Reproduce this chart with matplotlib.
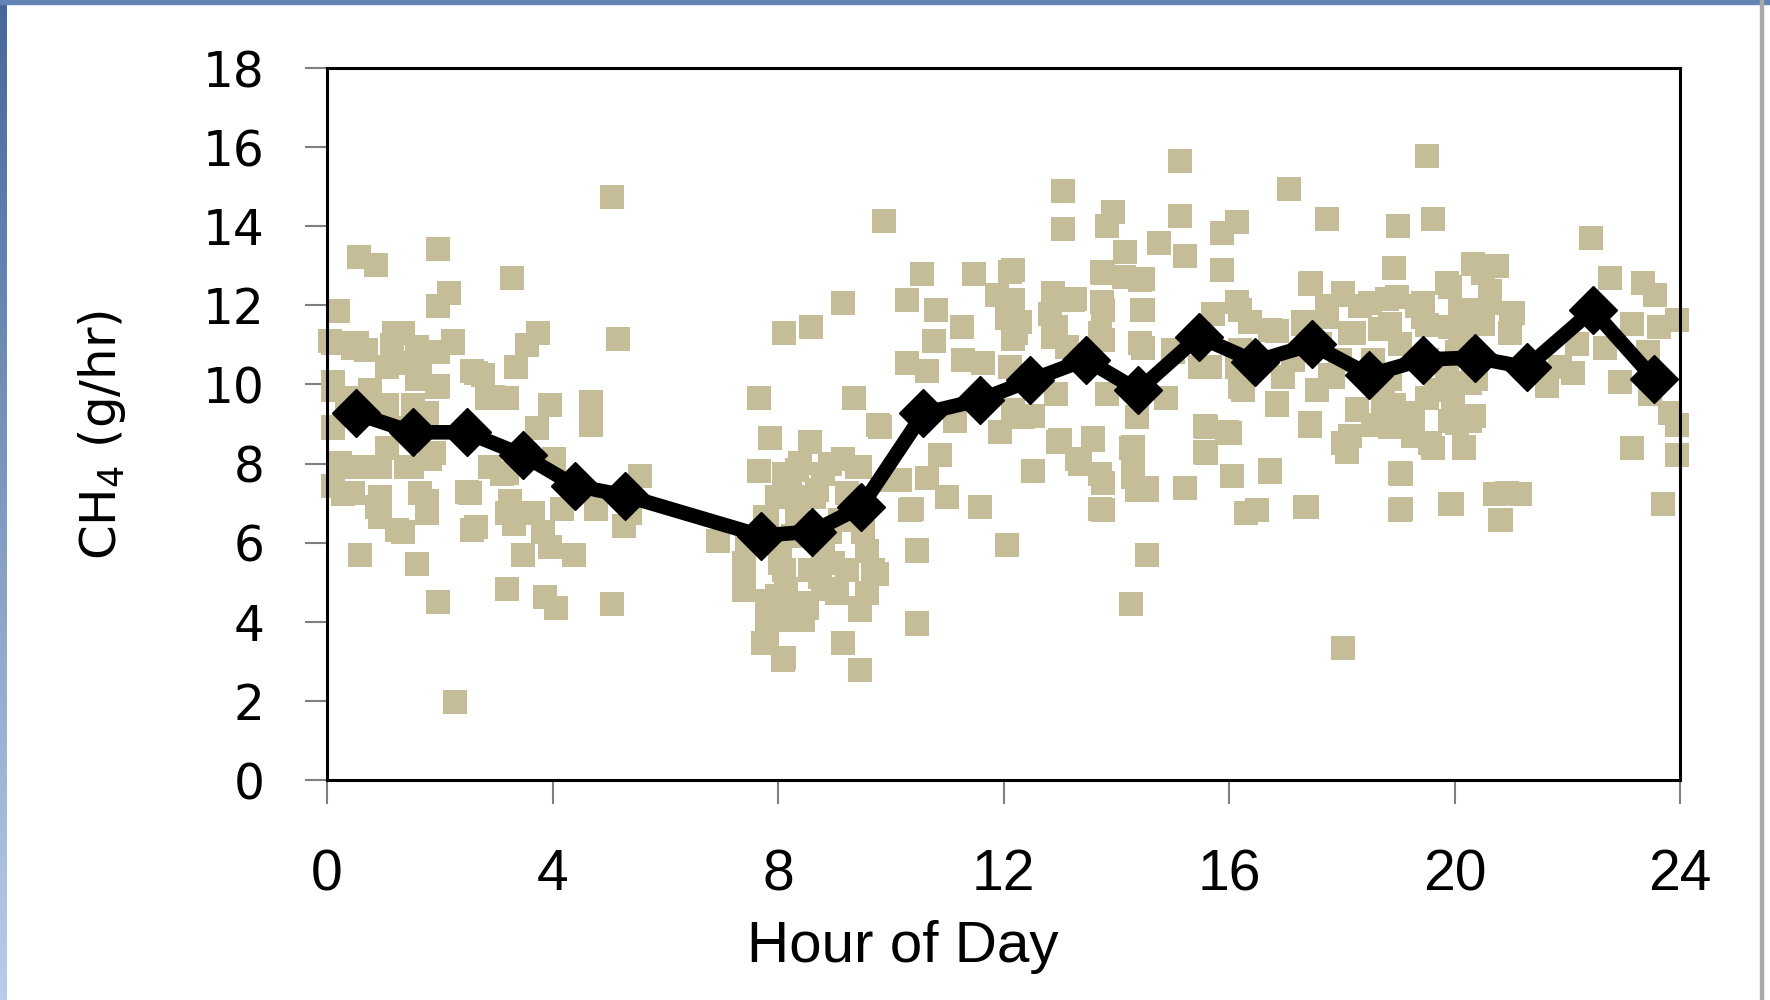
#!/usr/bin/env python3
"""
CH4 emission rate by hour of day: individual samples plus hourly means.
"""

import matplotlib
matplotlib.use('Agg')  # no display
import matplotlib.pyplot as plt
from matplotlib import font_manager
from matplotlib.colors import LinearSegmentedColormap
from matplotlib.patches import Rectangle
import numpy as np

# Hourly means (black diamonds + line)
mean_hour = [0.51, 1.52, 2.48, 3.48, 4.40, 5.29, 7.69, 8.61, 9.47, 10.58, 11.58,
             12.47, 13.46, 14.39, 15.46, 16.46, 17.47, 18.49, 19.44, 20.37, 21.28,
             22.45, 23.54]
mean_ch4 = [9.27, 8.79, 8.79, 8.21, 7.44, 7.19, 6.18, 6.28, 6.90, 9.27, 9.61,
            10.10, 10.63, 9.85, 11.21, 10.58, 11.01, 10.24, 10.63, 10.68, 10.43,
            11.88, 10.14]

# Individual samples (tan squares)
sample_hour = [
    # 0 - 4 h
    0.57, 0.87, 1.97, 3.28, 2.17, 1.97, 0.20, 3.75, 3.54, 3.36, 2.24, 1.35, 1.15,
    0.05, 0.47, 0.70, 1.65, 1.97, 2.57, 2.77, 1.97, 1.24, 1.59, 0.11, 0.35, 0.11,
    0.76, 2.83, 3.19, 3.96, 3.72, 4.02, 1.77, 1.35, 0.47, 0.23, 0.11, 0.29, 0.94,
    1.06, 1.83, 1.50, 0.94, 0.94, 1.35, 1.77, 1.77, 2.48, 2.57, 2.89, 3.10, 3.25,
    3.31, 3.66, 3.84, 3.48, 0.59, 1.59, 1.97, 3.19, 3.87, 4.07, 2.27, 1.06, 1.06,
    1.53,
    # 4 - 8 h
    5.06, 5.16, 8.10, 4.68, 4.68, 5.55, 4.16, 4.78, 5.26, 5.38, 3.96, 4.38, 5.06,
    6.94, 7.45, 7.66, 7.86, 7.66, 8.10, 7.98, 7.77, 7.39, 7.80, 8.10, 7.80, 7.74,
    8.10, 8.10, 8.04,
    # 8 - 12 h
    9.88, 9.16, 8.58, 10.56, 10.28, 10.81, 11.26, 10.76, 11.47, 12.12, 11.88,
    12.06, 12.17, 10.28, 10.64, 11.29, 11.64, 12.12, 9.35, 9.78, 11.14, 11.94,
    8.57, 10.87, 8.39, 9.16, 8.21, 8.80, 9.40, 10.16, 10.64, 10.99, 11.58, 10.37,
    12.06, 10.46, 8.27, 8.80, 9.57, 9.75, 9.45, 8.51, 8.80, 8.21, 9.16, 9.45,
    10.46, 8.74, 8.33, 9.10, 8.92, 9.51, 8.63, 8.15, 9.22,
    # 12 - 16 h
    15.13, 13.06, 13.06, 13.94, 13.83, 15.13, 14.75, 15.22, 16.14, 15.87, 15.87,
    14.16, 13.74, 14.48, 14.13, 12.88, 13.27, 13.74, 14.45, 12.29, 12.82, 16.14,
    15.72, 13.71, 14.48, 15.01, 12.88, 15.66, 16.14, 12.94, 13.83, 14.89, 14.36,
    12.35, 16.25, 12.97, 13.59, 14.27, 15.57, 15.96, 15.57, 13.30, 13.71, 14.30,
    14.54, 12.53, 13.71, 14.36, 15.22, 16.05, 16.31, 14.54, 14.27,
    # 16 - 20 h
    19.52, 17.07, 17.74, 19.00, 19.62, 18.92, 20.33, 17.45, 18.03, 16.37, 16.85,
    17.73, 18.32, 18.80, 19.33, 19.86, 20.10, 17.32, 18.15, 19.51, 20.10, 19.51,
    16.85, 17.56, 17.79, 18.86, 19.86, 17.44, 18.27, 18.56, 18.15, 18.09, 19.27,
    19.27, 19.62, 20.16, 20.28, 19.92, 16.73, 17.35, 19.05, 19.05, 19.96, 18.03,
    18.68, 19.03, 18.56, 17.97, 20.04, 20.33, 17.61, 17.14, 19.51, 18.92, 19.98,
    # 20 - 24 h
    22.42, 20.75, 22.76, 23.34, 23.56, 20.63, 21.01, 20.45, 23.14, 23.62, 23.94,
    20.98, 22.67, 22.17, 23.44, 20.39, 21.64, 22.11, 21.87, 22.94, 23.47, 23.82,
    23.94, 23.14, 23.94, 20.72, 21.16, 20.82, 23.70,
]
sample_ch4 = [
    # 0 - 4 h
    13.22, 13.03, 13.43, 12.68, 12.32, 11.98, 11.86, 11.30, 11.00, 10.43, 11.11,
    11.30, 11.00, 11.11, 10.92, 10.87, 10.82, 10.82, 10.34, 10.24, 9.95, 10.53,
    10.14, 10.05, 9.66, 8.89, 9.76, 9.66, 9.66, 9.47, 8.89, 8.11, 9.18, 8.89,
    7.92, 8.02, 7.44, 7.24, 7.92, 8.40, 8.11, 7.92, 7.15, 6.66, 6.28, 7.05, 6.76,
    7.29, 6.32, 7.92, 7.73, 7.05, 6.47, 6.76, 6.28, 5.69, 5.69, 5.45, 4.49, 4.82,
    4.63, 4.34, 1.97, 10.43, 9.47, 9.47,
    # 4 - 8 h
    14.74, 11.16, 11.30, 9.56, 8.98, 7.68, 6.86, 6.86, 6.42, 6.76, 5.89, 5.70,
    4.44, 6.03, 6.03, 9.66, 8.64, 7.82, 7.73, 7.15, 6.66, 4.92, 4.53, 5.31, 4.05,
    3.47, 3.08, 4.34, 5.79,
    # 8 - 12 h
    14.13, 12.06, 11.45, 12.80, 12.13, 11.88, 11.45, 11.11, 12.80, 12.85, 12.27,
    11.69, 11.16, 10.53, 10.34, 10.63, 10.53, 10.43, 9.66, 8.98, 9.08, 8.79, 8.55,
    8.21, 8.02, 8.11, 7.34, 7.73, 7.92, 7.58, 7.63, 7.15, 6.90, 6.86, 5.94, 5.79,
    6.18, 5.70, 5.79, 5.21, 4.34, 4.34, 4.82, 4.05, 3.47, 2.79, 3.95, 5.12, 6.76,
    6.57, 6.28, 6.28, 7.15, 4.82, 5.31,
    # 12 - 16 h
    15.64, 14.88, 13.92, 14.35, 14.01, 14.25, 13.58, 13.24, 14.11, 13.82, 12.90,
    13.36, 12.85, 12.66, 12.71, 12.32, 12.17, 12.08, 11.88, 11.59, 11.79, 12.08,
    11.79, 11.30, 10.92, 10.82, 11.21, 10.43, 10.43, 9.76, 9.76, 9.66, 9.18, 9.18,
    9.85, 8.55, 8.65, 8.40, 8.94, 8.79, 8.30, 8.11, 7.73, 7.92, 7.39, 7.82, 6.86,
    7.34, 7.39, 7.68, 6.76, 5.70, 4.44,
    # 16 - 20 h
    15.77, 14.93, 14.19, 14.01, 14.19, 12.95, 13.05, 12.56, 12.27, 11.59, 11.35,
    11.98, 11.98, 12.17, 11.98, 12.56, 11.88, 11.59, 11.30, 11.50, 11.30, 10.63,
    9.47, 9.85, 10.24, 10.14, 10.24, 8.94, 9.37, 8.98, 8.69, 8.30, 9.28, 8.69,
    8.40, 8.40, 9.08, 9.08, 7.79, 6.90, 7.73, 6.84, 6.97, 3.33, 11.40, 11.01,
    10.63, 10.63, 10.82, 10.63, 11.01, 10.63, 9.66, 9.47, 9.66,
    # 20 - 24 h
    13.70, 12.99, 12.68, 12.56, 12.27, 12.37, 11.79, 11.88, 11.52, 11.45, 11.64,
    11.30, 10.92, 11.01, 10.82, 10.14, 9.95, 10.29, 10.43, 10.05, 9.76, 9.28,
    8.98, 8.40, 8.21, 7.24, 7.24, 6.57, 6.97,
]

# More samples inside the dense clusters (mostly hidden by neighbours)
dense_hour = [
    0.11, 0.53, 1.18, 1.59, 2.24, 0.11, 0.76, 1.65, 1.95, 2.65, 2.95, 0.11, 1.06,
    1.77, 0.23, 0.82, 1.41, 1.89, 0.47, 0.88, 1.65, 1.24, 2.54, 2.65, 3.19, 3.19,
    8.33, 8.92, 9.45, 8.04, 8.69, 9.22, 7.80, 7.39, 8.04, 8.57, 8.98, 9.69, 7.39,
    7.98, 8.51, 9.04, 9.57, 7.80, 8.45, 9.45, 7.80, 8.09, 9.16, 9.45, 9.99, 10.34,
    10.46, 10.46, 9.81,
    12.17, 12.17, 12.23, 12.88, 13.24, 12.94, 13.12, 13.77, 13.77, 14.42, 14.48,
    13.77, 14.42, 15.01, 15.49, 12.17, 12.53, 13.00, 13.59, 13.36, 13.77, 13.77,
    14.30, 14.30, 14.54, 15.60, 15.60, 16.02, 16.20, 16.20, 16.20,
    17.44, 18.03, 18.50, 18.98, 19.45, 19.92, 20.51, 20.63, 21.04, 17.73, 18.21,
    18.86, 19.45, 19.92, 20.51, 16.73, 17.32, 16.96, 16.85, 17.56, 17.85, 17.44,
    18.03, 18.27, 18.74, 18.86, 19.27, 19.68, 19.57, 20.04, 20.16, 20.34, 20.28,
    21.64, 16.73, 19.03, 17.38, 16.49, 19.03, 19.92, 20.93, 20.81,
]
dense_ch4 = [
    11.04, 11.04, 11.29, 10.95, 11.04, 9.86, 9.86, 10.28, 9.94, 10.28, 9.69, 8.93,
    9.35, 9.27, 7.92, 7.92, 7.92, 8.26, 7.25, 6.91, 7.25, 6.32, 7.25, 6.40, 7.75,
    6.74,
    7.84, 8.00, 7.92, 7.16, 7.33, 7.25, 6.66, 5.48, 5.48, 5.31, 5.48, 5.31, 4.80,
    4.64, 4.47, 4.72, 4.72, 4.13, 4.05, 4.30, 3.54, 3.03, 3.46, 2.78, 7.58, 6.83,
    5.82, 3.96, 8.93,
    12.89, 12.13, 11.29, 12.30, 12.13, 11.46, 10.95, 12.81, 11.88, 12.64, 11.88,
    11.12, 11.04, 10.87, 10.45, 9.35, 9.19, 8.60, 8.60, 8.00, 7.50, 6.83, 8.43,
    7.67, 7.33, 8.93, 8.26, 8.76, 11.88, 10.87, 9.94,
    12.55, 12.30, 12.05, 12.22, 12.05, 12.47, 12.81, 12.05, 11.80, 11.71, 11.29,
    11.54, 11.71, 11.46, 11.54, 11.37, 11.54, 10.20, 9.52, 9.86, 10.20, 9.02,
    8.51, 9.35, 9.52, 8.93, 9.19, 9.86, 8.51, 9.02, 8.43, 9.19, 10.03, 10.11,
    7.84, 7.75, 6.91, 6.83, 6.83, 6.99, 7.25, 6.57,
]

x_ticks = [0, 4, 8, 12, 16, 20, 24]
y_ticks = [0, 2, 4, 6, 8, 10, 12, 14, 16, 18]

TAN = '#C4BD97'

installed = {f.name for f in font_manager.fontManager.ttflist}
narrow = 'Liberation Sans Narrow' if 'Liberation Sans Narrow' in installed else 'Liberation Sans'

W, H = 1770, 1000
fig = plt.figure(figsize=(W / 100, H / 100), dpi=100)
ax = fig.add_axes([327 / W, 1 - 780 / H, (1680 - 327) / W, (780 - 68) / H])

for hrs, vals in [(sample_hour, sample_ch4), (dense_hour, dense_ch4)]:
    ax.plot(hrs, vals, linestyle='none', marker='s', markersize=17,
            markerfacecolor=TAN, markeredgewidth=0, clip_on=False, zorder=2)
ax.plot(mean_hour, mean_ch4, color='black', linewidth=10.5, marker='D',
        markersize=24, markerfacecolor='black', markeredgecolor='black',
        solid_joinstyle='round', clip_on=False, zorder=3)

ax.set_xlim(0, 24)
ax.set_ylim(0, 18)
ax.set_xticks(x_ticks)
ax.set_yticks(y_ticks)

for s in ax.spines.values():
    s.set_linewidth(2.2)
    s.set_color('black')

ax.tick_params(axis='y', direction='out', length=16, width=1.5, color='#808080',
               pad=29, labelsize=35, labelcolor='black')
ax.tick_params(axis='x', direction='out', length=17, width=1.5, color='#808080',
               pad=32, labelsize=41, labelcolor='black')
for lab in ax.get_xticklabels():
    lab.set_fontfamily(narrow)
for lab in ax.get_yticklabels():
    lab.set_fontfamily('DejaVu Sans')

fig.text(903 / W, 1 - 962 / H, 'Hour of Day', ha='center', va='baseline',
         fontsize=42, fontfamily=narrow)
fig.text(102 / W, 1 - 435 / H, 'CH$_4$ (g/hr)', ha='center', va='center',
         rotation=90, fontsize=36, fontfamily='DejaVu Sans')

# window frame around the copied chart
frame = fig.add_axes([0, 0, 7 / W, 1])
grad = np.linspace(0, 1, 256).reshape(-1, 1)
cmap = LinearSegmentedColormap.from_list('frame', ['#46679a', '#b8cde8'])
frame.imshow(grad, aspect='auto', cmap=cmap)
frame.axis('off')
fig.patches.append(Rectangle((0, 1 - 4 / H), 1, 4 / H, transform=fig.transFigure,
                             color='#6283b3', zorder=5))
fig.patches.append(Rectangle((1760 / W, 0), 3 / W, 1, transform=fig.transFigure,
                             color='#a8a8a8', zorder=5))

fig.savefig('out.png', dpi=100)
print("Saved: out.png")
